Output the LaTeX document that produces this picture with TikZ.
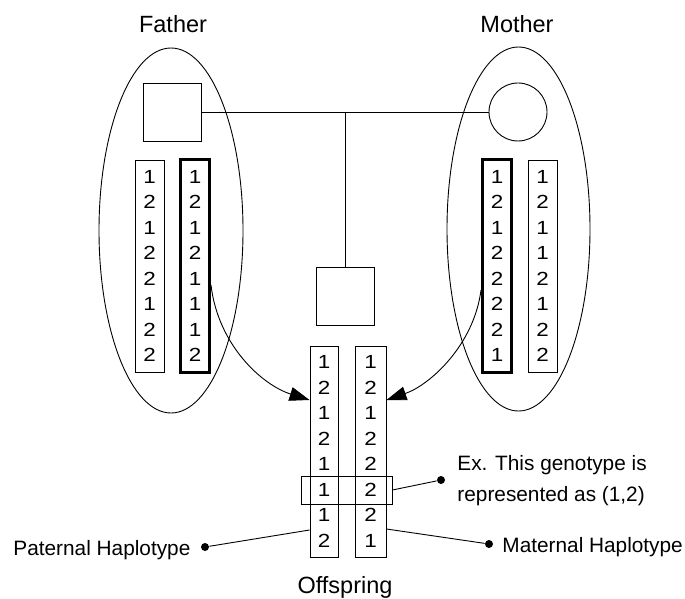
\documentclass[tikz,border=0pt]{standalone}
\usepackage{fontspec}
\setmainfont{Liberation Sans}
\newfontfamily\digitfont[FakeStretch=1.18]{Liberation Sans}
\usetikzlibrary{arrows.meta,shapes.geometric}
\begin{document}
\begin{tikzpicture}[x=1bp,y=-1bp,
  line width=0.9bp,
  chrom/.style={draw, line width=0.9bp, minimum width=29bp, minimum height=212bp,
    inner sep=0pt, align=center, font=\digitfont\fontsize{19bp}{25.5bp}\selectfont},
  boldchrom/.style={chrom, line width=3bp},
  person/.style={draw, minimum size=58bp, inner sep=0pt},
  parent/.style={draw, ellipse, inner sep=0pt},
  title/.style={anchor=base, inner sep=0pt, font=\fontsize{23.5bp}{28bp}\selectfont},
  note/.style={anchor=base west, inner sep=0pt, font=\fontsize{20.8bp}{25bp}\selectfont},
  dot/.style={circle, fill, inner sep=0pt, minimum size=8bp},
  inherit/.style={-{Triangle[length=20bp,width=14bp]}}
]
\useasboundingbox (0,0) rectangle (685,599);

% parents' outlines
\node[parent, minimum width=144bp, minimum height=365bp] (fatherE) at (171,230.5) {};
\node[parent, minimum width=143bp, minimum height=364bp] (motherE) at (518.5,229) {};

% labels
\node[title] (tFather) at (173,33) {Father};
\node[title] (tMother) at (517,33) {Mother};
\node[title] (tChild) at (345,593) {Offspring};

% pedigree symbols
\node[person] (father) at (172,112) {};
\node[person, circle] (mother) at (518,112) {};
\node[person] (child) at (345,296) {};
\coordinate (mate) at (345,112);
\draw (father.east) -- (mother.west);
\draw (mate) -- (child.north);

% father's haplotypes
\node[chrom] (fa) at (149.5,266) {1\\2\\1\\2\\2\\1\\2\\2};
\node[boldchrom] (fb) at (195,266) {1\\2\\1\\2\\1\\1\\1\\2};

% mother's haplotypes
\node[boldchrom] (ma) at (497,266) {1\\2\\1\\2\\2\\2\\2\\1};
\node[chrom] (mb) at (542.5,266) {1\\2\\1\\1\\2\\1\\2\\2};

% offspring's haplotypes
\node[chrom, minimum width=28bp, minimum height=211bp] (oa) at (324,451.5) {1\\2\\1\\2\\1\\1\\1\\2};
\node[chrom, minimum width=31bp, minimum height=211bp] (ob) at (370.5,451.5) {1\\2\\1\\2\\2\\2\\2\\1};

% one genotype marked across both haplotypes
\node[draw, minimum width=91bp, minimum height=28bp, inner sep=0pt] (geno) at (346.5,490) {};

% transmission arrows
\draw[inherit] (fb.east |- 0,285) .. controls (218,345) and (262,385) .. (oa.west |- 0,400);
\draw[inherit] (ma.west |- 0,290) .. controls (474,345) and (430,385) .. (ob.east |- 0,400);

% callouts
\node[dot] (gdot) at (441,480) {};
\node[dot] (pdot) at (205,547) {};
\node[dot] (mdot) at (489,544) {};
\draw (geno.east) -- (gdot);
\draw (pdot) -- (oa.west |- 0,530);
\draw (ob.east |- 0,529) -- (mdot);

\node[note] (gtext1) at (457,470) {Ex. This genotype is};
\node[note] (gtext2) at (457,501) {represented as (1,2)};
\node[note] (ptext) at (13,555) {Paternal Haplotype};
\node[note] (mtext) at (502,552) {Maternal Haplotype};
\end{tikzpicture}
\end{document}
